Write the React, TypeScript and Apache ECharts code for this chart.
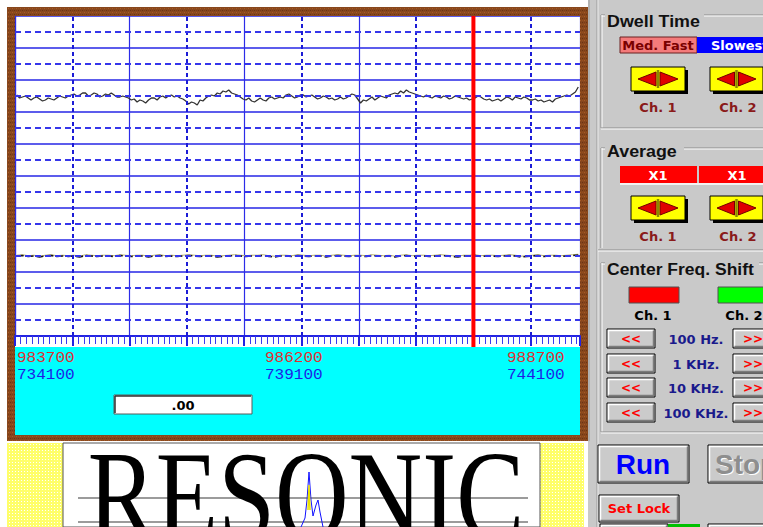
import React, { useEffect, useRef } from "react";
import * as echarts from "echarts";

// ---- data ----
const CH1_START = 0.03; // divisions
const CH1_STEP = 0.05; // divisions
const CH1_TRACE = [
  241, 238, 239, 240, 238, 236, 238, 239, 237, 235, 236, 238, 237, 236, 238, 240, 239, 238, 240, 241,
  242, 240, 241, 243, 243, 240, 241, 243, 242, 239, 240, 242, 241, 243, 241, 239, 239, 240, 239, 238,
  236, 237, 234, 236, 235, 233, 236, 238, 238, 236, 239, 240, 238, 240, 241, 239, 240, 238, 237, 235,
  232, 234, 233, 231, 236, 235, 238, 240, 241, 240, 243, 242, 245, 244, 246, 243, 242, 241, 239, 237,
  236, 238, 235, 234, 236, 238, 236, 235, 238, 239, 237, 238, 239, 238, 241, 242, 240, 238, 239, 241,
  241, 239, 240, 241, 239, 237, 238, 240, 239, 237, 238, 236, 237, 239, 237, 238, 240, 242, 241, 237,
  233, 236, 235, 237, 239, 236, 238, 240, 239, 238, 241, 242, 243, 242, 245, 243, 246, 244, 243, 242,
  241, 240, 239, 241, 239, 238, 240, 239, 238, 240, 239, 237, 238, 240, 239, 238, 237, 238, 236, 237,
  238, 240, 239, 237, 236, 237, 235, 236, 237, 235, 237, 239, 238, 236, 239, 238, 237, 239, 238, 236,
  236, 237, 235, 236, 234, 235, 236, 234, 237, 238, 239, 240, 241, 240, 242, 244, 249,
];
const CH2_START = 0.03;
const CH2_STEP = 0.1;
const CH2_TRACE = [
  80, 80.5, 79.5, 80, 79, 80, 80.5, 79.5, 80, 79.5,
  80, 79, 80.5, 80, 79.5, 80, 80, 79.5, 80.5, 80,
  79.5, 80, 80, 79, 80, 80.5, 79.5, 80, 79.5, 80,
  80.5, 80, 79.5, 80, 80, 79, 79.5, 80, 80.5, 80,
  79.5, 80, 80, 80.5, 79.5, 79, 80, 80, 79.5, 80.5,
  80, 79.5, 80, 80, 79, 80, 80.5, 80, 79.5, 80,
  80, 79.5, 80.5, 80, 79.5, 80, 79, 80, 80.5, 79.5,
  80, 80, 79.5, 80, 80.5, 80, 79.5, 79, 80, 80,
  80.5, 79.5, 80, 80, 79.5, 80, 80.5, 80, 79, 79.5,
  80, 80.5, 79.5, 80, 80, 79.5, 80, 80.5, 81,
];
const X_MAX = 9.86;
const Y_MAX = 320;
const X_DASHED = [1, 3, 5, 7, 9];
const Y_DASHED = [16, 48, 80, 112, 144, 176, 208, 240, 272, 304];
const CURSOR_X = 8;
const CH1_FREQ_LABELS = ["983700", "986200", "988700"];
const CH2_FREQ_LABELS = ["734100", "739100", "744100"];
const READOUT = ".00";
const DWELL = ["Med. Fast", "Slowest"];
const AVERAGE = ["X1", "X1"];
const CHANNELS = ["Ch. 1", "Ch. 2"];
const STEP_LABELS = ["100 Hz.", "1 KHz.", "10 KHz.", "100 KHz."];

const DJ = '"DejaVu Sans"';
const LS = '"Liberation Sans"';
const font = (size: number, weight = "bold", fam = DJ) => `${weight} ${size}px ${fam}`;

function makePattern(size: number, base: string, dots: [number, number, string][]) {
  try {
    const c = document.createElement("canvas");
    c.width = size;
    c.height = size;
    const ctx = c.getContext("2d");
    if (!ctx) return null;
    ctx.fillStyle = base;
    ctx.fillRect(0, 0, size, size);
    dots.forEach(([x, y, col]) => {
      ctx.fillStyle = col;
      ctx.fillRect(x, y, 1, 1);
    });
    return { image: c.toDataURL(), repeat: "repeat", imageWidth: size, imageHeight: size };
  } catch (e) {
    return null;
  }
}

function txt(x: number, y: number, text: string, fill: string, f: string, align = "center", extra: any = {}) {
  return { type: "text", x, y, ...extra, style: { text, fill, font: f, align, verticalAlign: "middle" } };
}
function rect(x: number, y: number, w: number, h: number, fill: any, extra: any = {}, stroke?: string) {
  return {
    type: "rect",
    ...extra,
    shape: { x, y, width: w, height: h },
    style: { fill, stroke: stroke || null, lineWidth: stroke ? 1 : 0 },
  };
}
function line(x1: number, y1: number, x2: number, y2: number, stroke: string, lineWidth = 1, extra: any = {}) {
  return { type: "line", ...extra, shape: { x1, y1, x2, y2 }, style: { stroke, lineWidth } };
}
function bevel(x: number, y: number, w: number, h: number, face = "#cbcbcb") {
  return [
    rect(x, y, w, h, face, {}, "#000"),
    { type: "polyline", shape: { points: [[x + 1.5, y + h - 1.5], [x + 1.5, y + 1.5], [x + w - 1.5, y + 1.5]] }, style: { stroke: "#fff", lineWidth: 1.5, fill: null } },
    { type: "polyline", shape: { points: [[x + 1.5, y + h - 1.5], [x + w - 1.5, y + h - 1.5], [x + w - 1.5, y + 1.5]] }, style: { stroke: "#7c7c7c", lineWidth: 1.5, fill: null } },
  ];
}
function arrowButton(x: number, y: number, w: number, h: number) {
  const cx = x + w / 2;
  const cy = y + h / 2;
  return [
    rect(x + 3, y + 3, w, h, "#000"),
    rect(x, y, w, h, "#ffff00", {}, "#000"),
    line(cx, y + 3, cx, y + h - 3, "#8a8a00", 2.5),
    { type: "polygon", shape: { points: [[cx - 2, cy - 7], [cx - 2, cy + 7], [x + 7, cy]] }, style: { fill: "#e00000", stroke: "#700000", lineWidth: 1 } },
    { type: "polygon", shape: { points: [[cx + 2, cy - 7], [cx + 2, cy + 7], [x + w - 7, cy]] }, style: { fill: "#e00000", stroke: "#700000", lineWidth: 1 } },
  ];
}
function etched(x1: number, y1: number, x2: number, y2: number) {
  const horiz = y1 === y2;
  return [
    line(x1, y1, x2, y2, "#8a8a8a", 1),
    line(horiz ? x1 : x1 + 1, horiz ? y1 + 1 : y1, horiz ? x2 : x2 + 1, horiz ? y2 + 1 : y2, "#ffffff", 1),
  ];
}

function buildGraphics(cursorPx: number) {
  const g: any[] = [];
  const brown = "#88471d";
  const brownTex = makePattern(4, brown, [[0, 0, "#a85a26"], [2, 2, "#6a3414"], [2, 0, "#94501f"], [0, 2, "#7a3c18"]]);
  const frame = [
    [7, 7, 580, 9],
    [7, 435, 580, 6],
    [7, 7, 8, 434],
    [580, 7, 8, 434],
  ];
  frame.forEach(([x, y, w, h]) => {
    g.push(rect(x, y, w, h, brown));
    if (brownTex) g.push(rect(x, y, w, h, brownTex));
  });
  // tick row and cyan read-out area
  g.push(rect(15, 336, 565, 11, "#ffffff", { z: -1 }));
  g.push(rect(15, 347, 565, 88, "#00ffff"));
  // frequency labels
  const labelX = [17, 265, 507];
  CH1_FREQ_LABELS.forEach((t, i) =>
    g.push(txt(labelX[i], 358, t, "#e03030", `normal 15px "Liberation Mono"`, "left", { scaleX: 1.07 }))
  );
  CH2_FREQ_LABELS.forEach((t, i) =>
    g.push(txt(labelX[i], 375, t, "#1e1ee6", `normal 15px "Liberation Mono"`, "left", { scaleX: 1.07 }))
  );
  // read-out box
  g.push(rect(114, 395, 138, 19, "#ffffff", {}, "#5a5a5a"));
  g.push(line(115, 396, 251, 396, "#303030", 1.5));
  g.push(line(115, 396, 115, 413, "#303030", 1.5));
  g.push(txt(183, 405, READOUT, "#000", font(13)));
  // cursor
  g.push(line(cursorPx, 16, cursorPx, 347, "#ff0000", 4, { z: 10 }));

  // bottom logo strip
  const yellow = "#ffff78";
  const yellowTex = makePattern(3, "#ffff6a", [[0, 0, "#ffffff"]]);
  [[7, 443, 56, 84], [540, 443, 44, 84]].forEach(([x, y, w, h]) => {
    g.push(rect(x, y, w, h, yellow));
    if (yellowTex) g.push(rect(x, y, w, h, yellowTex));
  });
  g.push(rect(63, 443, 477, 84, "#ffffff", {}, "#555"));
  g.push(line(78, 498, 528, 498, "#7a7a7a", 1.5));
  g.push(line(78, 522, 528, 522, "#7a7a7a", 1.5));
  g.push(line(104, 498, 116, 498, "#e8d000", 2));
  g.push({
    type: "text",
    x: 306,
    y: 496,
    scaleY: 1.25,
    style: { text: "RESONIC", fill: "#000", font: 'normal 102px "Liberation Serif"', align: "center", verticalAlign: "middle" },
  });
  g.push({
    type: "polyline",
    shape: { points: [[301, 527], [305, 518], [307, 500], [309, 472], [311, 500], [313, 516], [316, 505], [318, 500], [320, 512], [323, 527]] },
    style: { stroke: "#1010ff", lineWidth: 1, fill: null },
  });
  g.push({
    type: "polyline",
    shape: { points: [[308, 510], [309, 485], [310, 510]] },
    style: { stroke: "#e8e000", lineWidth: 1.5, fill: null },
  });

  // right panel
  g.push(rect(588, 0, 175, 527, "#c9c9c9"));
  g.push(line(589, 0, 589, 441, "#9a9a9a", 1));
  g.push(line(597, 0, 597, 527, "#9a9a9a", 1));
  g.push(line(598, 0, 598, 527, "#ececec", 1));

  // Dwell Time group
  g.push(...etched(601, 15, 605, 15));
  g.push(...etched(704, 15, 763, 15));
  g.push(...etched(601, 15, 601, 128));
  g.push(...etched(601, 128, 763, 128));
  g.push(txt(607, 21, "Dwell Time", "#111", font(17, "bold", LS), "left", { scaleX: 1.05 }));
  g.push(rect(620, 37, 77, 16, "#f47a7a", {}, "#6a2020"));
  g.push(txt(658, 45.5, DWELL[0], "#7a0000", font(13)));
  g.push(rect(697, 37, 70, 16, "#0000ff"));
  g.push(txt(711, 45.5, DWELL[1], "#ffffff", font(13), "left"));
  g.push(...arrowButton(631, 67, 54, 24));
  g.push(...arrowButton(710, 67, 53, 24));
  g.push(txt(658, 107, CHANNELS[0], "#8a1a1a", font(13)));
  g.push(txt(738, 107, CHANNELS[1], "#8a1a1a", font(13)));

  // Average group
  g.push(...etched(601, 148, 605, 148));
  g.push(...etched(684, 148, 763, 148));
  g.push(...etched(601, 148, 601, 248));
  g.push(...etched(598, 250, 763, 250));
  g.push(txt(607, 151, "Average", "#111", font(17, "bold", LS), "left", { scaleX: 1.05 }));
  g.push(rect(620, 166, 77, 17, "#ff0000"));
  g.push(rect(699, 166, 66, 17, "#ff0000"));
  g.push(line(620, 184, 763, 184, "#ffffff", 1.5));
  g.push(txt(658, 175, AVERAGE[0], "#ffffff", font(13)));
  g.push(txt(737, 175, AVERAGE[1], "#ffffff", font(13)));
  g.push(...arrowButton(631, 196, 54, 24));
  g.push(...arrowButton(710, 196, 53, 24));
  g.push(txt(658, 236, CHANNELS[0], "#8a1a1a", font(13)));
  g.push(txt(738, 236, CHANNELS[1], "#8a1a1a", font(13)));

  // Center Freq. Shift group
  g.push(...etched(601, 263, 605, 263));
  g.push(...etched(759, 263, 763, 263));
  g.push(...etched(601, 263, 601, 432));
  g.push(...etched(601, 432, 763, 432));
  g.push(txt(607, 269, "Center Freq. Shift", "#111", font(17, "bold", LS), "left", { scaleX: 1.03 }));
  g.push(rect(629, 287, 50, 16, "#ff0000", {}, "#505050"));
  g.push(rect(718, 287, 50, 16, "#00ff00", {}, "#505050"));
  g.push(txt(653, 315, CHANNELS[0], "#000", font(13)));
  g.push(txt(744, 315, CHANNELS[1], "#000", font(13)));
  const rowsY = [329, 354, 378, 403];
  rowsY.forEach((y, i) => {
    g.push(...bevel(607, y, 48, 19));
    g.push(txt(631, y + 10, "<<", "#ff0000", font(12)));
    g.push(txt(696, y + 10, STEP_LABELS[i], "#1a1a8c", font(13)));
    g.push(...bevel(733, y, 40, 19));
    g.push(txt(753, y + 10, ">>", "#ff0000", font(12)));
  });

  // Run / Stop / Set Lock
  g.push(...bevel(598, 445, 91, 38));
  g.push(txt(643, 464, "Run", "#0000ff", font(28, "bold", LS)));
  g.push(...bevel(708, 445, 70, 38));
  g.push(txt(716, 465, "Stop", "#ffffff", font(28, "bold", LS), "left"));
  g.push(txt(715, 464, "Stop", "#8e8e8e", font(28, "bold", LS), "left"));
  g.push(...bevel(599, 495, 80, 27));
  g.push(txt(639, 508, "Set Lock", "#ff0000", font(13)));
  g.push(...bevel(600, 524, 68, 10));
  g.push(rect(668, 524, 32, 6, "#00c000"));
  g.push(...bevel(708, 524, 60, 10));
  return g;
}

export default function App() {
  const ref = useRef<HTMLDivElement>(null);
  useEffect(() => {
    document.body.style.margin = "0";
    const chart = echarts.init(ref.current!, null, { renderer: "svg" });
    const ch1 = CH1_TRACE.map((v, i) => [CH1_START + i * CH1_STEP, v]);
    const ch2 = CH2_TRACE.map((v, i) => [CH2_START + i * CH2_STEP, v]);
    const option: any = {
      animation: false,
      backgroundColor: "#ffffff",
      grid: { left: 15, top: 16, width: 565, height: 320, show: true, backgroundColor: "#ffffff", borderWidth: 0 },
      xAxis: [
        {
          type: "value", min: 0, max: X_MAX, interval: 1,
          axisLine: { show: true, onZero: false, lineStyle: { color: "#2323e2", width: 2 } },
          axisTick: { show: true, inside: false, length: 10, lineStyle: { color: "#2323e2", width: 2 } },
          minorTick: { show: true, splitNumber: 10, length: 8, lineStyle: { color: "#3a3aee", width: 1 } },
          axisLabel: { show: false },
          splitLine: { show: false },
        },
        {
          type: "value", min: 0, max: X_MAX, interval: 2, position: "bottom",
          axisLine: { show: false }, axisTick: { show: false }, axisLabel: { show: false },
          splitLine: { show: true, lineStyle: { color: "#2c2ce8", width: 1.2 } },
        },
      ],
      yAxis: [
        {
          type: "value", min: 0, max: Y_MAX, interval: 32,
          axisLine: { show: true, onZero: false, lineStyle: { color: "#2c2ce8", width: 1.2 } },
          axisTick: { show: false }, axisLabel: { show: false },
          splitLine: { show: true, lineStyle: { color: "#2626e6", width: 1.5 } },
        },
      ],
      series: [
        {
          type: "line",
          data: [],
          z: 1,
          silent: true,
          markLine: {
            silent: true,
            symbol: ["none", "none"],
            label: { show: false },
            data: [
              ...X_DASHED.map((v) => ({ xAxis: v, lineStyle: { color: "#1c1cd6", width: 2, type: [4, 3] } })),
              ...Y_DASHED.map((v) => ({ yAxis: v, lineStyle: { color: "#3636ea", width: 1.8, type: [6, 4] } })),
            ],
          },
        },
        {
          type: "line", z: 3, showSymbol: false, symbol: "none",
          lineStyle: { color: "#b9b478", width: 1 },
          data: ch2.map(([x, v]) => [x, v + 0.8]),
        },
        {
          type: "line", z: 4, showSymbol: false, symbol: "none",
          lineStyle: { color: "#151515", width: 1.6, type: [7, 3] },
          data: ch2,
        },
        {
          type: "line", z: 4, showSymbol: false, symbol: "none",
          lineStyle: { color: "#333333", width: 1.3 },
          data: ch1,
        },
      ],
    };
    chart.setOption(option);
    const cursorPx = chart.convertToPixel({ xAxisIndex: 0 }, CURSOR_X) as number;
    chart.setOption({ graphic: { elements: buildGraphics(cursorPx) } });
    return () => chart.dispose();
  }, []);
  return <div ref={ref} style={{ width: 763, height: 527 }} />;
}
